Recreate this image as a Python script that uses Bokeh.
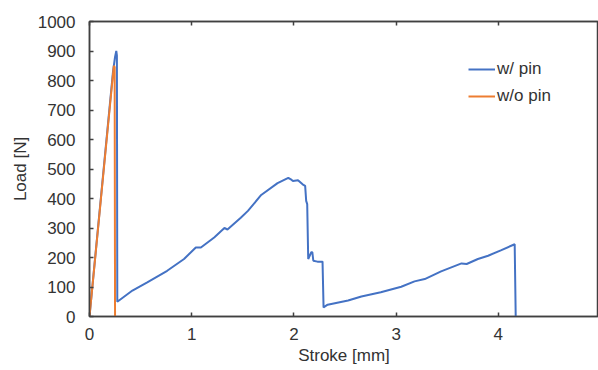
from bokeh.plotting import figure
from bokeh.models import Range1d, LinearAxis, FixedTicker, Legend, LegendItem
from bokeh.embed import file_html
from bokeh.resources import INLINE

# data
pin_x = [0, 0.23, 0.25, 0.262, 0.268, 0.272, 0.42, 0.565, 0.76, 0.925, 1.04, 1.09, 1.22, 1.32, 1.35,
         1.48, 1.55, 1.68, 1.84, 1.945, 1.97, 1.99, 2.04, 2.085, 2.11, 2.12, 2.13, 2.14, 2.17, 2.18,
         2.19, 2.23, 2.28, 2.29, 2.33, 2.53, 2.66, 2.85, 3.05, 3.18, 3.28, 3.44, 3.64, 3.69, 3.80,
         3.90, 4.03, 4.16, 4.17]
pin_y = [0, 830, 880, 900, 885, 50, 88, 116, 155, 195, 234, 234, 268, 300, 295,
         335, 358, 412, 452, 470, 465, 459, 462, 448, 443, 392, 381, 195, 218, 218,
         189, 186, 186, 31, 40, 54, 68, 82, 101, 119, 127, 153, 180, 178, 195,
         206, 225, 245, 0]
nopin_x = [0, 0.238, 0.246, 0.25]
nopin_y = [0, 850, 845, 0]
x_ticks = [0, 1, 2, 3, 4, 5]
y_ticks = [0, 100, 200, 300, 400, 500, 600, 700, 800, 900, 1000]

FONT = "Liberation Sans"
TXT = "#333333"
AX = "#404040"
BLUE = "#4472C4"
ORANGE = "#ED7D31"

p = figure(width=598, height=370, output_backend="svg", toolbar_location=None,
           x_range=Range1d(0, 4.98), y_range=Range1d(0, 1000),
           min_border_left=89, min_border_top=21, min_border_right=0, min_border_bottom=54)
p.grid.visible = False
p.outline_line_color = AX
p.outline_line_width = 1.5
p.background_fill_color = "white"
p.border_fill_color = "white"

r1 = p.line(pin_x, pin_y, line_color=BLUE, line_width=2)
r2 = p.line(nopin_x, nopin_y, line_color=ORANGE, line_width=2)

for ax in (p.xaxis[0], p.yaxis[0]):
    ax.major_tick_in = 4
    ax.major_tick_out = 0
    ax.minor_tick_line_color = None
    ax.axis_line_color = AX
    ax.axis_line_width = 1.5
    ax.major_tick_line_color = AX
    ax.major_tick_line_width = 1.5
    ax.major_label_text_font = FONT
    ax.major_label_text_font_size = "17px"
    ax.major_label_text_color = TXT
    ax.axis_label_text_font = FONT
    ax.axis_label_text_font_size = "17px"
    ax.axis_label_text_font_style = "normal"
    ax.axis_label_text_color = TXT

p.xaxis[0].ticker = FixedTicker(ticks=x_ticks)
p.yaxis[0].ticker = FixedTicker(ticks=y_ticks)
p.xaxis[0].major_label_standoff = 11
p.yaxis[0].major_label_standoff = 14

p.yaxis[0].axis_label = "Load [N]"
p.yaxis[0].axis_label_standoff = 5
p.xaxis[0].axis_label = "Stroke [mm]"
p.xaxis[0].axis_label_standoff = 3

top = LinearAxis(ticker=FixedTicker(ticks=x_ticks), major_label_text_color=None,
                 major_tick_in=4, major_tick_out=0, minor_tick_line_color=None,
                 axis_line_color=AX, axis_line_width=1.5, major_tick_line_color=AX,
                 major_tick_line_width=1.5, major_label_standoff=0)
p.add_layout(top, "above")

legend = Legend(items=[LegendItem(label="w/ pin", renderers=[r1]),
                       LegendItem(label="w/o pin", renderers=[r2])],
                location=(379, 210), padding=0, margin=0, spacing=7,
                glyph_width=27, glyph_height=20, label_height=20, label_standoff=2,
                label_text_font=FONT, label_text_font_size="17px", label_text_color=TXT,
                border_line_color=None, background_fill_alpha=0)
p.add_layout(legend)

open("out.html", "w").write(file_html(p, INLINE))
